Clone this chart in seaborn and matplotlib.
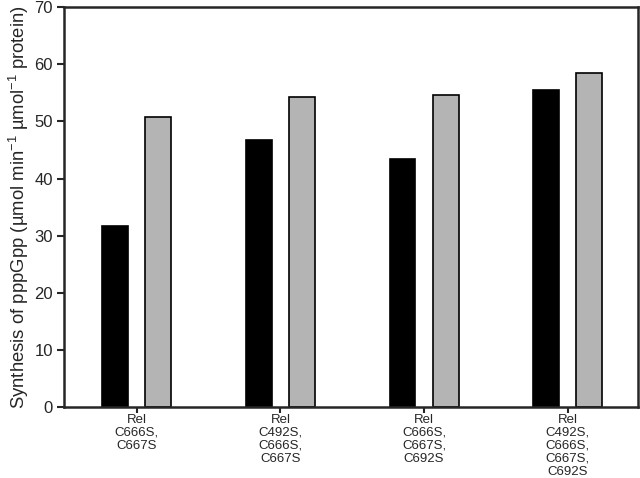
import pandas as pd
import matplotlib
matplotlib.use("Agg")
import matplotlib.pyplot as plt
import seaborn as sns

# values
mutants = ["Rel\nC666S,\nC667S",
           "Rel\nC492S,\nC666S,\nC667S",
           "Rel\nC666S,\nC667S,\nC692S",
           "Rel\nC492S,\nC666S,\nC667S,\nC692S"]
series_names = ["condition 1", "condition 2"]
black_values = [31.7, 46.8, 43.5, 55.5]
gray_values = [50.7, 54.3, 54.6, 58.4]


def build_frame():
    rows = []
    for m, b, g in zip(mutants, black_values, gray_values):
        rows.append({"mutant": m, "series": series_names[0], "rate": b})
        rows.append({"mutant": m, "series": series_names[1], "rate": g})
    return pd.DataFrame(rows)


def main():
    sns.set_style("ticks")
    plt.rcParams["font.family"] = ["Liberation Sans", "DejaVu Sans"]
    plt.rcParams["mathtext.fontset"] = "custom"
    plt.rcParams["mathtext.rm"] = "Liberation Sans"

    data = build_frame()
    fig = plt.figure(figsize=(6.4, 4.78), dpi=100)
    ax = fig.add_axes([0.1, 0.1485, 0.897, 0.8365])

    sns.barplot(data=data, x="mutant", y="rate", hue="series",
                palette=["#000000", "#b4b4b4"], width=0.6, gap=0.4,
                edgecolor="black", linewidth=1.2, legend=False, ax=ax)

    ax.set_xlim(-0.507, 3.49)
    ax.set_ylim(0, 70)
    ax.set_yticks(range(0, 71, 10))
    ax.set_xlabel("")
    ax.set_ylabel("Synthesis of pppGpp (µmol min$^{-1}$ µmol$^{-1}$ protein)",
                  fontsize=13.3, labelpad=2)
    ax.tick_params(axis="y", labelsize=12, width=1.5, length=5, direction="out", pad=3)
    ax.tick_params(axis="x", labelsize=9.5, width=1.5, length=4, direction="out", pad=1)
    for lab in ax.get_xticklabels():
        lab.set_linespacing(1.1)
    for side in ["top", "right", "left", "bottom"]:
        ax.spines[side].set_linewidth(1.8)
        ax.spines[side].set_visible(True)

    fig.savefig("out.png", dpi=100)
    plt.close(fig)


if __name__ == "__main__":
    main()
